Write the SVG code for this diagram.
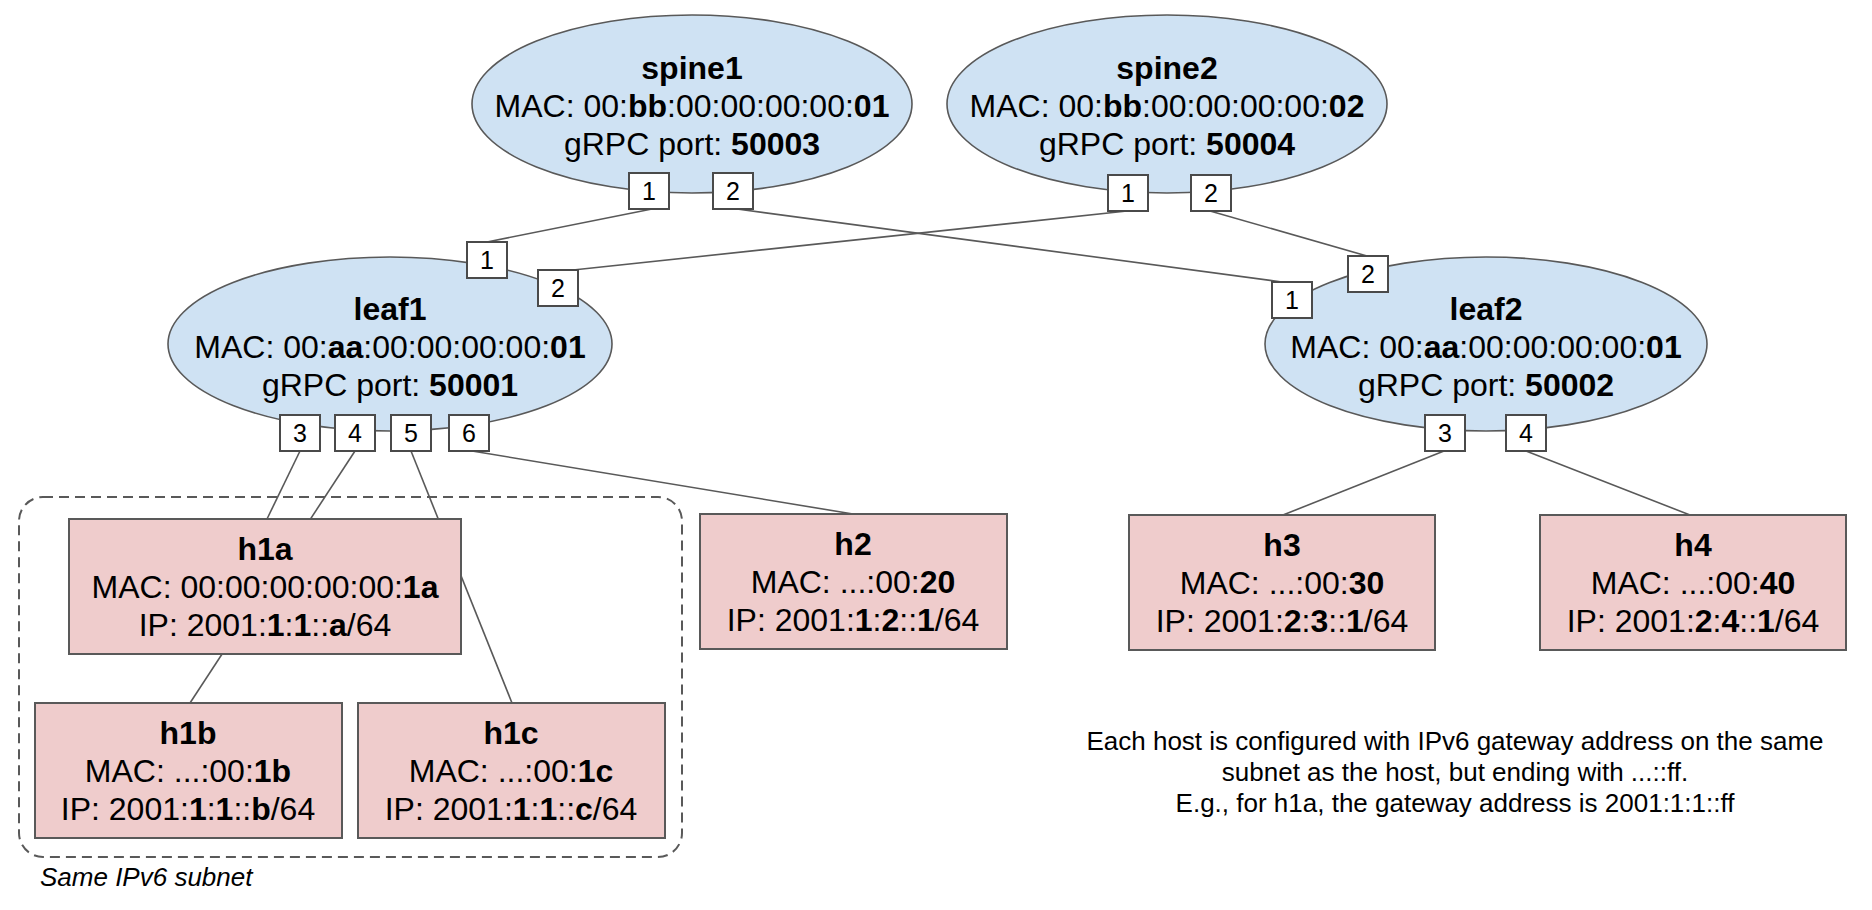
<svg xmlns="http://www.w3.org/2000/svg" width="1872" height="910" viewBox="0 0 1872 910">
<style>
text{font-family:"Liberation Sans",Arial,sans-serif;fill:#000}
.t{font-size:32px;text-anchor:middle}
.b{font-weight:bold}
.sw{fill:#cfe2f3;stroke:#595959;stroke-width:1.6}
.host{fill:#efcccc;stroke:#595959;stroke-width:2}
.port rect{fill:#fff;stroke:#4a4a4a;stroke-width:2}
.port text{font-size:25px;text-anchor:middle}
.link{stroke:#595959;stroke-width:1.6;fill:none}
.note{font-size:26px;text-anchor:middle}
</style>
<rect width="1872" height="910" fill="#fff"/>
<g id="subnet-group">
<rect x="19" y="497" width="663" height="360" rx="24" ry="24" fill="none" stroke="#595959" stroke-width="2" stroke-dasharray="10 6"/>
<text x="40" y="886" font-size="26" font-style="italic">Same IPv6 subnet</text>
</g>
<g id="connectors">
<line class="link" x1="652" y1="209" x2="487" y2="242"/>
<line class="link" x1="737" y1="209" x2="1282" y2="282"/>
<line class="link" x1="1127" y1="211" x2="573" y2="270"/>
<line class="link" x1="1210" y1="211" x2="1367" y2="256"/>
<line class="link" x1="300" y1="451" x2="267" y2="519"/>
<line class="link" x1="355" y1="451" x2="190" y2="703"/>
<line class="link" x1="411" y1="451" x2="512" y2="703"/>
<line class="link" x1="472" y1="451" x2="853" y2="514"/>
<line class="link" x1="1444" y1="451" x2="1283" y2="515"/>
<line class="link" x1="1526" y1="451" x2="1690" y2="515"/>
</g>
<g id="spine1">
<ellipse class="sw" cx="692" cy="104" rx="220" ry="89"/>
<text class="t" x="692" y="79"><tspan class="b">spine1</tspan></text>
<text class="t" x="692" y="117">MAC: 00:<tspan class="b">bb</tspan>:00:00:00:00:<tspan class="b">01</tspan></text>
<text class="t" x="692" y="155">gRPC port: <tspan class="b">50003</tspan></text>
<g class="port"><rect x="629" y="173" width="40" height="36"/><text x="649" y="200">1</text></g>
<g class="port"><rect x="713" y="173" width="40" height="36"/><text x="733" y="200">2</text></g>
</g>
<g id="spine2">
<ellipse class="sw" cx="1167" cy="104" rx="220" ry="89"/>
<text class="t" x="1167" y="79"><tspan class="b">spine2</tspan></text>
<text class="t" x="1167" y="117">MAC: 00:<tspan class="b">bb</tspan>:00:00:00:00:<tspan class="b">02</tspan></text>
<text class="t" x="1167" y="155">gRPC port: <tspan class="b">50004</tspan></text>
<g class="port"><rect x="1108" y="175" width="40" height="36"/><text x="1128" y="202">1</text></g>
<g class="port"><rect x="1191" y="175" width="40" height="36"/><text x="1211" y="202">2</text></g>
</g>
<g id="leaf1">
<ellipse class="sw" cx="390" cy="344" rx="222" ry="87"/>
<text class="t" x="390" y="320"><tspan class="b">leaf1</tspan></text>
<text class="t" x="390" y="358">MAC: 00:<tspan class="b">aa</tspan>:00:00:00:00:<tspan class="b">01</tspan></text>
<text class="t" x="390" y="396">gRPC port: <tspan class="b">50001</tspan></text>
<g class="port"><rect x="467" y="242" width="40" height="36"/><text x="487" y="269">1</text></g>
<g class="port"><rect x="538" y="270" width="40" height="36"/><text x="558" y="297">2</text></g>
<g class="port"><rect x="280" y="415" width="40" height="36"/><text x="300" y="442">3</text></g>
<g class="port"><rect x="335" y="415" width="40" height="36"/><text x="355" y="442">4</text></g>
<g class="port"><rect x="391" y="415" width="40" height="36"/><text x="411" y="442">5</text></g>
<g class="port"><rect x="449" y="415" width="40" height="36"/><text x="469" y="442">6</text></g>
</g>
<g id="leaf2">
<ellipse class="sw" cx="1486" cy="344" rx="221" ry="87"/>
<text class="t" x="1486" y="320"><tspan class="b">leaf2</tspan></text>
<text class="t" x="1486" y="358">MAC: 00:<tspan class="b">aa</tspan>:00:00:00:00:<tspan class="b">01</tspan></text>
<text class="t" x="1486" y="396">gRPC port: <tspan class="b">50002</tspan></text>
<g class="port"><rect x="1272" y="282" width="40" height="36"/><text x="1292" y="309">1</text></g>
<g class="port"><rect x="1348" y="256" width="40" height="36"/><text x="1368" y="283">2</text></g>
<g class="port"><rect x="1425" y="415" width="40" height="36"/><text x="1445" y="442">3</text></g>
<g class="port"><rect x="1506" y="415" width="40" height="36"/><text x="1526" y="442">4</text></g>
</g>
<g id="h1a">
<rect class="host" x="69" y="519" width="392" height="135"/>
<text class="t" x="265" y="560"><tspan class="b">h1a</tspan></text>
<text class="t" x="265" y="598">MAC: 00:00:00:00:00:<tspan class="b">1a</tspan></text>
<text class="t" x="265" y="636">IP: 2001:<tspan class="b">1</tspan>:<tspan class="b">1</tspan>::<tspan class="b">a</tspan>/64</text>
</g>
<g id="h1b">
<rect class="host" x="35" y="703" width="307" height="135"/>
<text class="t" x="188" y="744"><tspan class="b">h1b</tspan></text>
<text class="t" x="188" y="782">MAC: ...:00:<tspan class="b">1b</tspan></text>
<text class="t" x="188" y="820">IP: 2001:<tspan class="b">1</tspan>:<tspan class="b">1</tspan>::<tspan class="b">b</tspan>/64</text>
</g>
<g id="h1c">
<rect class="host" x="358" y="703" width="307" height="135"/>
<text class="t" x="511" y="744"><tspan class="b">h1c</tspan></text>
<text class="t" x="511" y="782">MAC: ...:00:<tspan class="b">1c</tspan></text>
<text class="t" x="511" y="820">IP: 2001:<tspan class="b">1</tspan>:<tspan class="b">1</tspan>::<tspan class="b">c</tspan>/64</text>
</g>
<g id="h2">
<rect class="host" x="700" y="514" width="307" height="135"/>
<text class="t" x="853" y="555"><tspan class="b">h2</tspan></text>
<text class="t" x="853" y="593">MAC: ...:00:<tspan class="b">20</tspan></text>
<text class="t" x="853" y="631">IP: 2001:<tspan class="b">1</tspan>:<tspan class="b">2</tspan>::<tspan class="b">1</tspan>/64</text>
</g>
<g id="h3">
<rect class="host" x="1129" y="515" width="306" height="135"/>
<text class="t" x="1282" y="556"><tspan class="b">h3</tspan></text>
<text class="t" x="1282" y="594">MAC: ...:00:<tspan class="b">30</tspan></text>
<text class="t" x="1282" y="632">IP: 2001:<tspan class="b">2</tspan>:<tspan class="b">3</tspan>::<tspan class="b">1</tspan>/64</text>
</g>
<g id="h4">
<rect class="host" x="1540" y="515" width="306" height="135"/>
<text class="t" x="1693" y="556"><tspan class="b">h4</tspan></text>
<text class="t" x="1693" y="594">MAC: ...:00:<tspan class="b">40</tspan></text>
<text class="t" x="1693" y="632">IP: 2001:<tspan class="b">2</tspan>:<tspan class="b">4</tspan>::<tspan class="b">1</tspan>/64</text>
</g>
<g id="note">
<text class="note" x="1455" y="750">Each host is configured with IPv6 gateway address on the same</text>
<text class="note" x="1455" y="781">subnet as the host, but ending with ...::ff.</text>
<text class="note" x="1455" y="812">E.g., for h1a, the gateway address is 2001:1:1::ff</text>
</g>
</svg>
